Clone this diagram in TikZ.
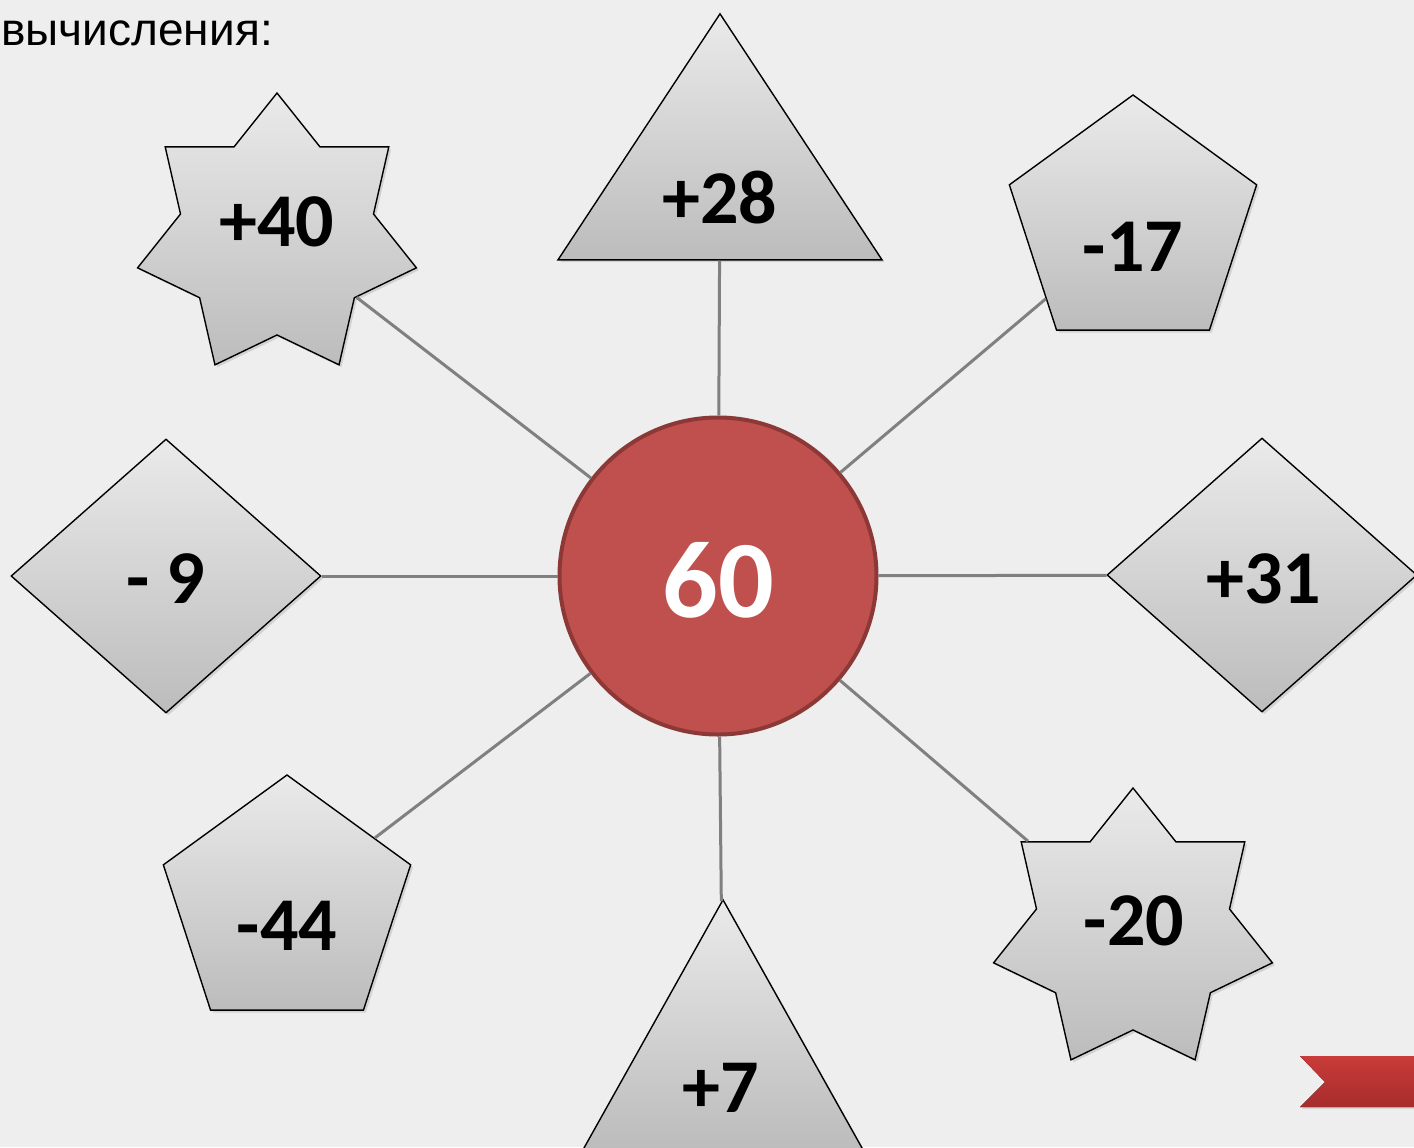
\documentclass[tikz,border=0pt]{standalone}
\usepackage{fontspec}
\usetikzlibrary{shapes.geometric,shadows}
\newfontfamily\numfont{Carlito}
\newfontfamily\cyrfont{Liberation Sans}
\definecolor{slide}{RGB}{238,238,238}
\definecolor{tiletop}{RGB}{234,234,234}
\definecolor{tilebottom}{RGB}{188,188,188}
\definecolor{hubred}{RGB}{192,80,77}
\definecolor{hubrim}{RGB}{140,56,54}
\definecolor{spokegray}{RGB}{128,128,128}
\definecolor{ribbontop}{RGB}{201,60,57}
\definecolor{ribbonbottom}{RGB}{166,44,44}
\tikzset{
    tile/.style       = {draw=black, line width=0.7pt, inner sep=0pt,
                         top color=tiletop, bottom color=tilebottom,
                         drop shadow={opacity=0.25, shadow xshift=1.2pt,
                                      shadow yshift=-1.2pt}},
    sevenstar/.style  = {tile, star, star points=7, star point ratio=1.445,
                         minimum size=143pt},
    penta/.style      = {tile, regular polygon, regular polygon sides=5,
                         minimum size=130pt},
    rhomb/.style      = {tile, diamond, minimum width=155pt,
                         minimum height=137pt},
    wedge/.style 2 args = {tile, isosceles triangle,
                         isosceles triangle stretches, shape border rotate=90,
                         anchor=apex, minimum width=#1, minimum height=#2},
    hub/.style        = {circle, draw=hubrim, line width=2pt, fill=hubred,
                         minimum size=158.5pt, inner sep=0pt},
    num/.style        = {inner sep=0pt,
                         font=\numfont\bfseries\fontsize{38pt}{40pt}\selectfont},
    spoke/.style      = {draw=spokegray, line width=1.5pt},
    ribbon/.style     = {top color=ribbontop, bottom color=ribbonbottom,
                         drop shadow={opacity=0.2, shadow xshift=1pt,
                                      shadow yshift=-1pt}}
}

\begin{document}
\begin{tikzpicture}[x=0.5pt, y=-0.5pt]

\fill[slide] (0,0) rectangle (1414,1147);
\useasboundingbox (0,0) rectangle (1414,1147);

\node[anchor=base west, inner sep=0pt,
    font=\cyrfont\fontsize{23pt}{26pt}\selectfont] (heading) at (1,45)
    {вычисления:};

% Centre value and the eight operation tiles around it.
\node[hub] (centre) at (718,576) {};

\node[wedge={162pt}{123pt}] (t28) at (720,12) {};
\node[penta] (p17) at (1133,225) {};
\node[rhomb] (r31) at (1262,575) {};
\node[sevenstar] (s20) at (1133,931) {};
\node[wedge={139.5pt}{124.5pt}] (t7) at (723,898) {};
\node[penta] (p44) at (287,905) {};
\node[rhomb] (r9) at (166,576) {};
\node[sevenstar] (s40) at (277,236) {};

\foreach \name in {t28,p17,r31,s20,t7,p44,r9,s40}
    \draw[spoke] (centre) -- (\name);

\node[num, text=white, font=\numfont\bfseries\fontsize{55pt}{58pt}\selectfont]
    (v60) at (718,580) {60};
\node[num] (v28) at (720,198) {+28};
\node[num] (v17) at (1133,247) {-17};
\node[num] (v31) at (1264,579) {+31};
\node[num] (v20) at (1134,921) {-20};
\node[num] (v7) at (721,1088) {+7};
\node[num] (v44) at (287,926) {-44};
\node[num] (v9) at (166,579) {- 9};
\node[num] (v40) at (277,222) {+40};

% Slide navigation ribbon.
\fill[ribbon] (1300,1056) -- (1414,1056) -- (1414,1107) -- (1300,1107)
    -- (1325,1082) -- cycle;

\end{tikzpicture}
\end{document}
